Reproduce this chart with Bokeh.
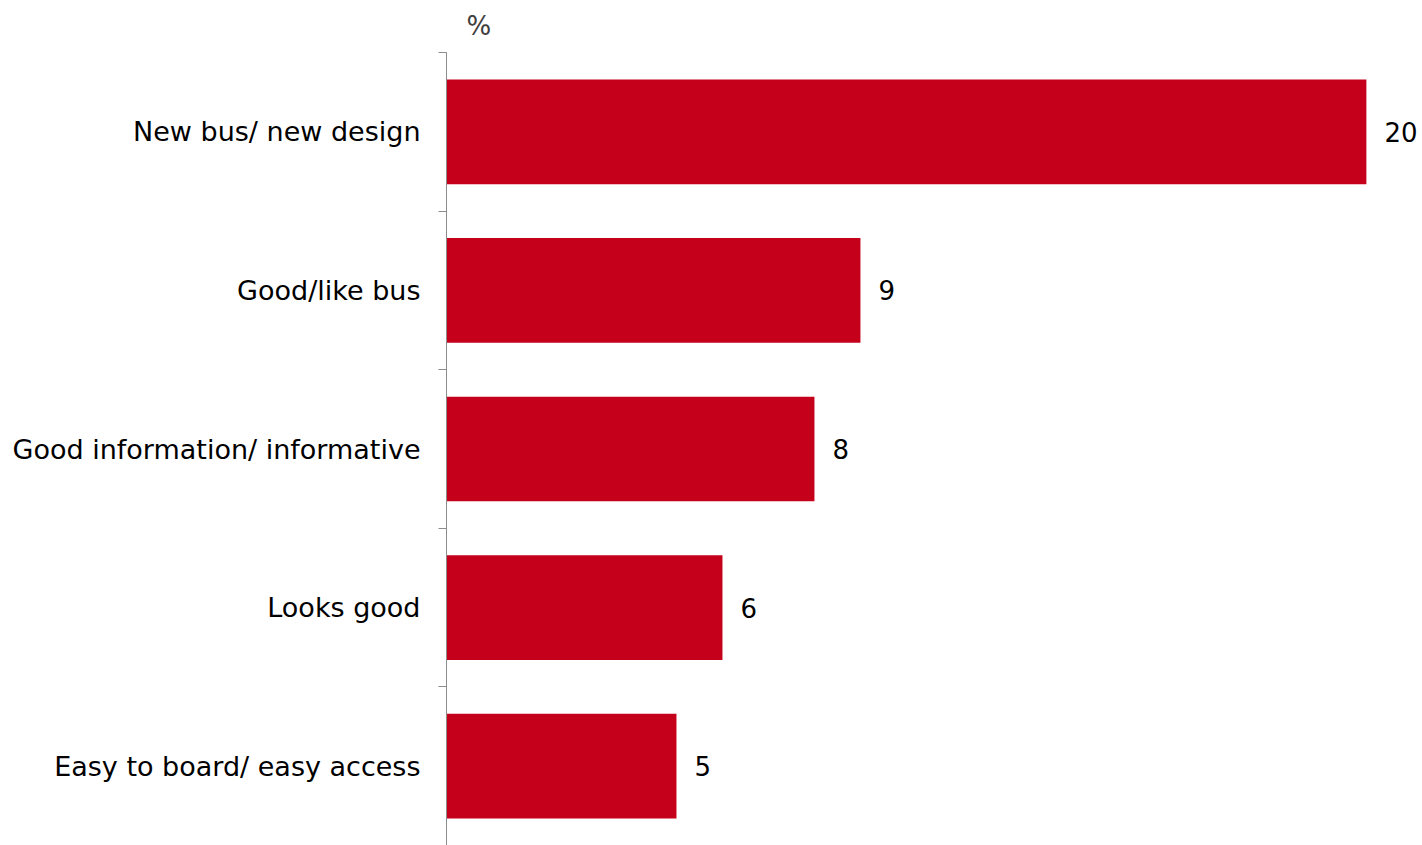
from bokeh.plotting import figure
from bokeh.models import Range1d, FixedTicker, ColumnDataSource
from bokeh.core.properties import value
from bokeh.embed import file_html
from bokeh.resources import INLINE

categories = ["New bus/ new design", "Good/like bus", "Good information/ informative",
              "Looks good", "Easy to board/ easy access"]
values = [20, 9, 8, 6, 5]
unit_label = "%"

n = len(categories)
ypos = [n - 1 - i for i in range(n)]
src = ColumnDataSource(dict(y=ypos, v=values, lbl=[str(v) for v in values]))

p = figure(width=1422, height=845, output_backend="svg", toolbar_location=None,
           x_range=Range1d(0, 21.22), y_range=Range1d(-0.5, n - 0.5),
           min_border_left=446, min_border_right=0, min_border_top=52, min_border_bottom=0)

p.hbar(y="y", right="v", left=0, height=0.66, source=src, fill_color="#C5001A", line_color=None)
p.text(x="v", y="y", text="lbl", source=src, x_offset=18, text_baseline="middle", text_align="left",
       text_font=value("DejaVu Sans"), text_font_size="26px", text_color="#000000")

p.xaxis.visible = False
p.xgrid.visible = False
p.ygrid.visible = False
p.outline_line_color = None

ya = p.yaxis[0]
ya.ticker = FixedTicker(ticks=ypos, minor_ticks=[k - 0.5 for k in range(n + 1)])
ya.major_label_overrides = {yy: c for yy, c in zip(ypos, categories)}
ya.major_tick_out = 0
ya.major_tick_in = 0
ya.minor_tick_out = 8
ya.minor_tick_in = 0
ya.minor_tick_line_color = "#8c8c8c"
ya.axis_line_color = "#8c8c8c"
ya.major_label_standoff = 18
ya.major_label_text_font = "DejaVu Sans"
ya.major_label_text_font_size = "27px"
ya.major_label_text_color = "#000000"

p.title.text = unit_label
p.title.align = "left"
p.title.vertical_align = "top"
p.title.offset = 20
p.title.standoff = 19
p.title.text_font = "DejaVu Sans"
p.title.text_font_size = "26px"
p.title.text_font_style = "normal"
p.title.text_color = "#404040"

open("out.html", "w").write(file_html(p, INLINE))
